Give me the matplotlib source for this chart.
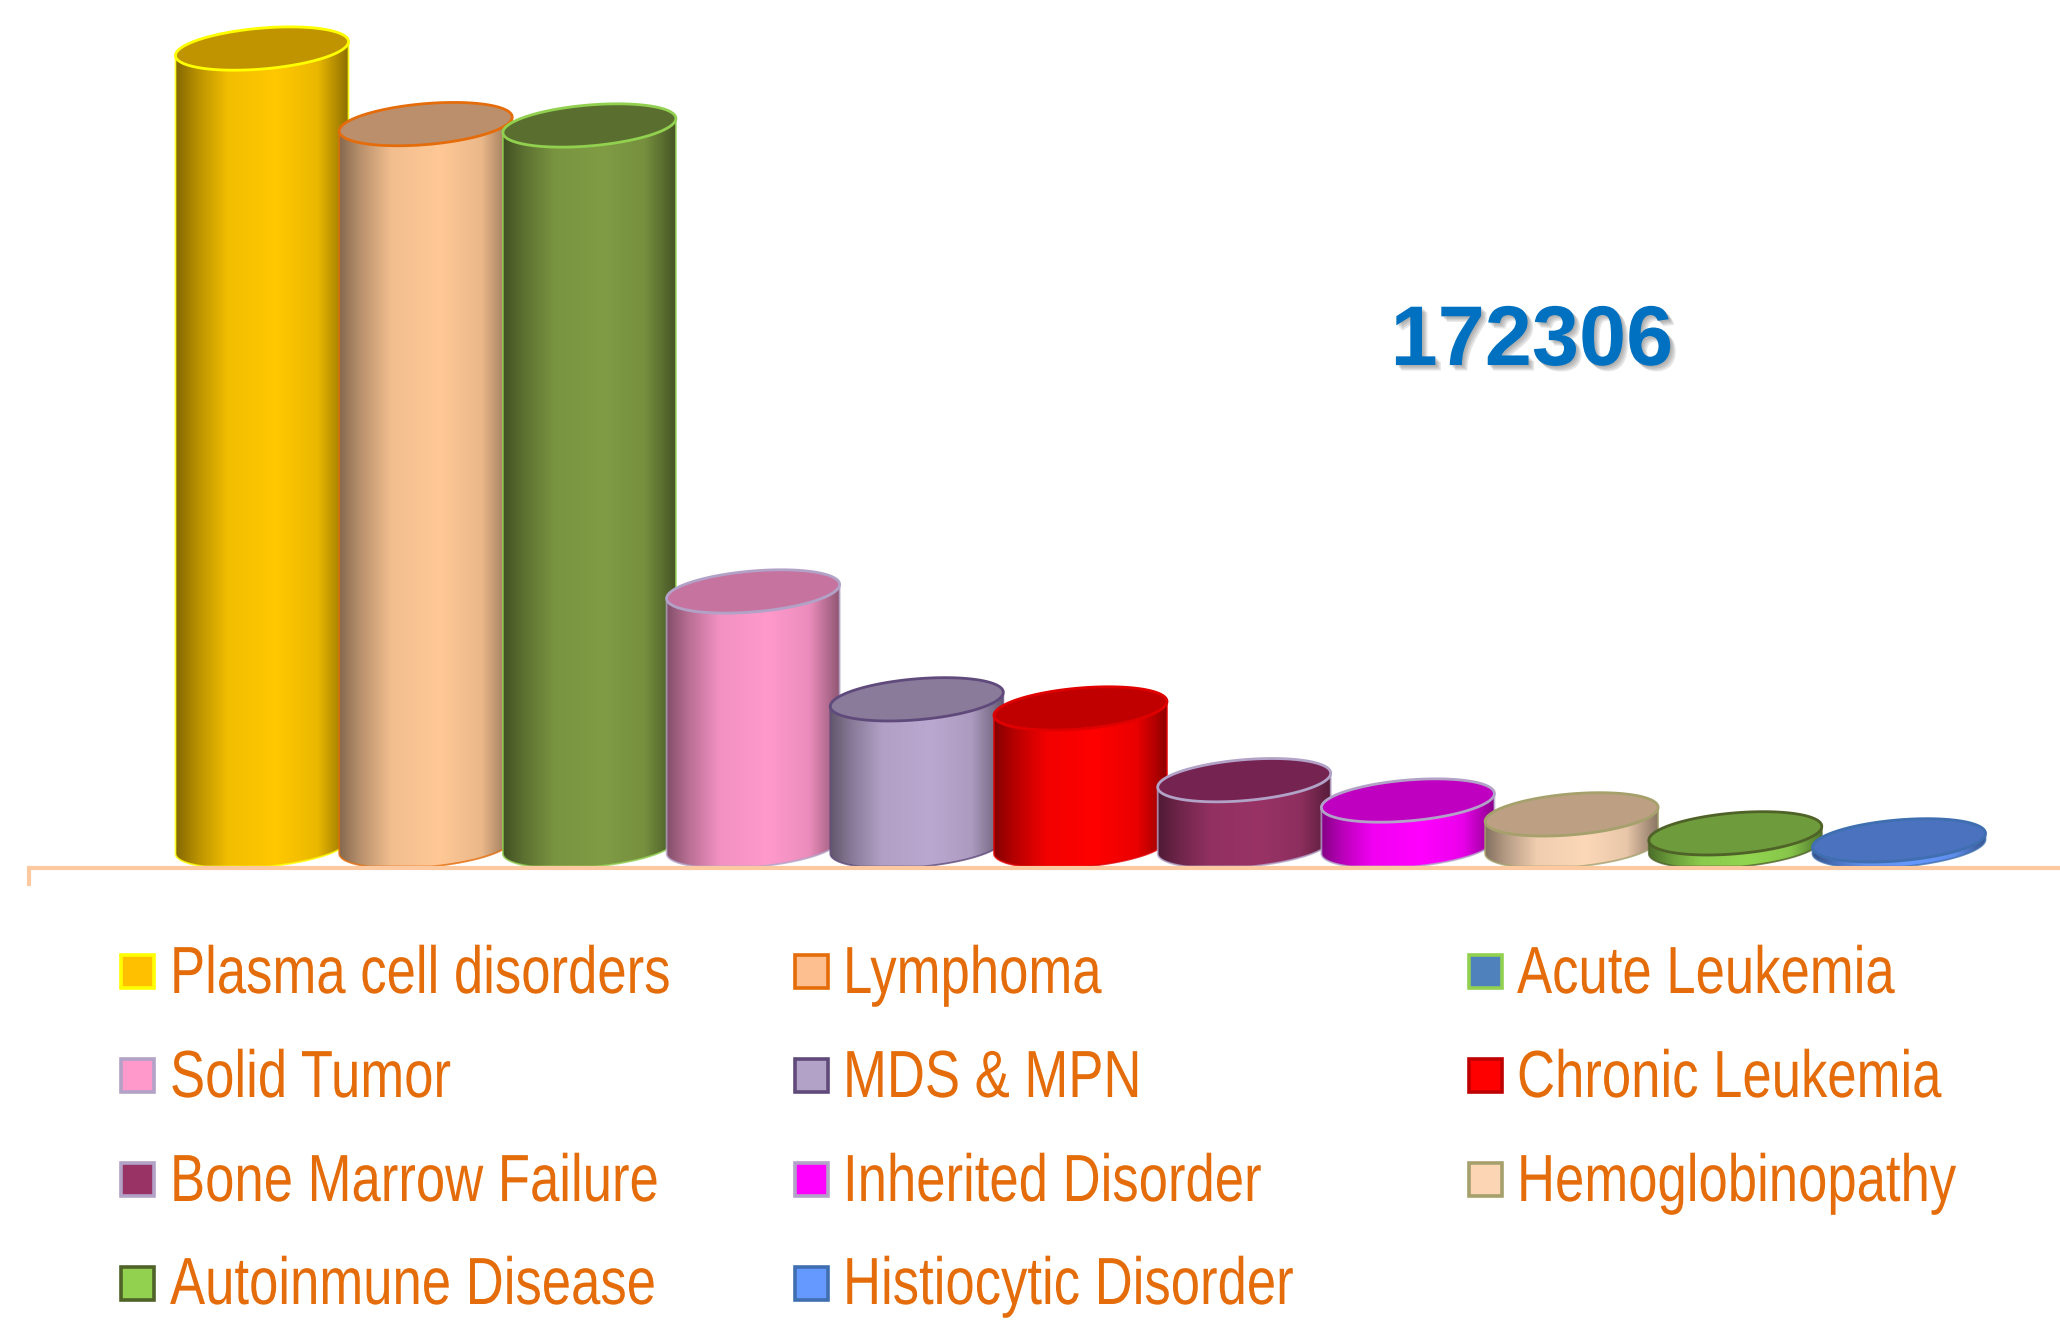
#!/usr/bin/env python3
"""Cylinder bar chart of transplant indications, total 172306."""
import numpy as np
import matplotlib
matplotlib.use('Agg')
import matplotlib.pyplot as plt
import matplotlib.patheffects as pe
from matplotlib.colors import LinearSegmentedColormap, to_rgb
from matplotlib.font_manager import FontProperties
from matplotlib.patches import Polygon, Rectangle
from matplotlib.text import Text
from matplotlib.textpath import TextPath
from matplotlib.transforms import Affine2D, Bbox

categories = ['Plasma cell disorders', 'Lymphoma', 'Acute Leukemia',
              'Solid Tumor', 'MDS & MPN', 'Chronic Leukemia',
              'Bone Marrow Failure', 'Inherited Disorder', 'Hemoglobinopathy',
              'Autoinmune Disease', 'Histiocytic Disorder']
values = [46680, 42260, 42180, 14920, 8610, 8075, 3880, 2690, 1880, 770, 360]
total_label = '172306'

side_colors = ['#ffc800', '#ffc896', '#809c44', '#ff99cc', '#bba8d0', '#ff0000',
               '#993366', '#ff00ff', '#fcd8b8', '#92d650', '#6699ff']
top_colors = ['#c09400', '#bc8f6c', '#5a6f2f', '#c6749f', '#8a7b9b', '#c00000',
              '#752350', '#c000c0', '#bda084', '#6e9b3c', '#4a72be']
edge_colors = ['#ffff00', '#e46c0a', '#92d050', '#b3a2c7', '#604a7b', '#e00000',
               '#b3a2c7', '#b3a2c7', '#a5a06c', '#4f6228', '#3f6fb0']
legend_fill = ['#ffc000', '#fdbf8f', '#4f81bd', '#ff99cc', '#b3a2c7', '#ff0000',
               '#993366', '#ff00ff', '#fcd5b5', '#92d050', '#6699ff']
legend_edge = ['#ffff00', '#e46c0a', '#92d050', '#b3a2c7', '#604a7b', '#c00000',
               '#b3a2c7', '#b3a2c7', '#a5a06c', '#4f6228', '#3f6fb0']

TEXT_COLOR = '#e46c0a'
AXIS_COLOR = '#fcc9a0'

W, H = 2060, 1331
STEP_PX = 163.7       # px between cylinders
FIRST_PX = 262        # px centre of first cylinder
BASE_PX = 846.5       # px of the centre of the bottom ellipse
FLOOR_PX = 866.5      # cylinders are cut flat here
VALUE_PER_PX = 58.5


class SqueezedText(Text):
    """Text drawn narrower than the font, the reference has its labels condensed."""
    squeeze = 0.79

    def _get_layout(self, renderer):
        # left aligned text, so only the width of the box has to change
        box, info, descent = super()._get_layout(renderer)
        box = Bbox.from_bounds(box.x0, box.y0, box.width * self.squeeze, box.height)
        return box, info, descent

    def draw(self, renderer):
        size = self.get_fontsize() * self.figure.dpi / 72
        glyphs = TextPath((0, 0), self.get_text(), size=size,
                          prop=FontProperties(family='Liberation Sans'))
        x, y = self.get_transform().transform(self.get_position())
        gc = renderer.new_gc()
        gc.set_linewidth(0)
        gc.set_antialiased(True)
        renderer.draw_path(gc, glyphs, Affine2D().scale(self.squeeze, 1).translate(x, y),
                           to_rgb(self.get_color()))
        gc.restore()


fig = plt.figure(figsize=(W / 100, H / 100), dpi=100, facecolor='white')
ax = fig.add_axes([0, 0, 1, 1])
ax.axis('off')

# pixel coordinates of the picture (origin top left), for legend and axis line
px = Affine2D().scale(1 / W, -1 / H).translate(0, 1) + fig.transFigure

half_w = 86.5 / STEP_PX
ry = 20.5 * VALUE_PER_PX
shear = 7 * VALUE_PER_PX
floor_value = (BASE_PX - FLOOR_PX) * VALUE_PER_PX


def shade_map(color):
    base = np.array(to_rgb(color))
    stops = [(0, 0.52), (0.12, 0.72), (0.3, 0.95), (0.58, 1.0), (0.82, 0.92), (1, 0.55)]
    return LinearSegmentedColormap.from_list('s', [(p, tuple(base * f)) for p, f in stops])


t = np.linspace(0, 2 * np.pi, 200)
grad = np.linspace(0, 1, 256)[np.newaxis, :]

for i, val in enumerate(values):
    z = 3 + i
    ex = i + half_w * np.cos(t)
    ey = val + ry * np.sin(t) + shear * np.cos(t)

    # body: left side, front arc of the bottom ellipse, right side
    arc_t = np.linspace(np.pi, 2 * np.pi, 100)
    arc_x = i + half_w * np.cos(arc_t)
    arc_y = np.maximum(ry * np.sin(arc_t) + shear * np.cos(arc_t), floor_value)
    body_x = np.r_[i - half_w, arc_x, i + half_w]
    body_y = np.r_[val - shear, arc_y, val + shear]
    body = Polygon(np.c_[body_x, body_y], closed=True, fc='none', ec='none', zorder=z)
    ax.add_patch(body)
    im = ax.imshow(grad, cmap=shade_map(side_colors[i]), aspect='auto', zorder=z,
                   extent=(i - half_w, i + half_w, -ry - shear, val + shear + ry))
    im.set_clip_path(body)
    ax.plot(body_x, body_y, color=edge_colors[i], lw=1.3, alpha=0.8, zorder=z + 0.1)

    # top ellipse
    ax.add_patch(Polygon(np.c_[ex, ey], closed=True, fc=top_colors[i],
                         ec=edge_colors[i], lw=2, zorder=z + 0.2))

ax.set_xlim(-FIRST_PX / STEP_PX, (W - FIRST_PX) / STEP_PX)
ax.set_ylim(-(H - BASE_PX) * VALUE_PER_PX, BASE_PX * VALUE_PER_PX)

# floor line with its little tick at the left
ax.plot([29, 29, W], [884, 868, 868], color=AXIS_COLOR, lw=3, transform=px,
        zorder=25, solid_joinstyle='miter')

shadow = [pe.SimplePatchShadow(offset=(k, -k), shadow_rgbFace='#666666', alpha=0.16)
          for k in (1, 2, 3, 4)]
ax.text(1532, 343, total_label, transform=px, color='#0070c0', fontsize=61,
        fontweight='bold', family='Liberation Sans', ha='center', va='center',
        zorder=30, path_effects=shadow + [pe.Normal()])

# legend, filled row by row
col_marker = [121, 795, 1469]
col_text = [170, 843, 1517]
row_y = [972, 1076, 1180, 1284]
row_baseline = [993, 1097, 1201, 1304]
for i, name in enumerate(categories):
    r, c = divmod(i, 3)
    ax.add_patch(Rectangle((col_marker[c], row_y[r] - 17), 33, 33, transform=px,
                           fc=legend_fill[i], ec=legend_edge[i], lw=2.6, zorder=20))
    ax.add_artist(SqueezedText(col_text[c], row_baseline[r], name, transform=px,
                               color=TEXT_COLOR, fontsize=48, family='Liberation Sans',
                               ha='left', va='baseline', zorder=20))

fig.savefig('out.png', dpi=100, facecolor='white')
